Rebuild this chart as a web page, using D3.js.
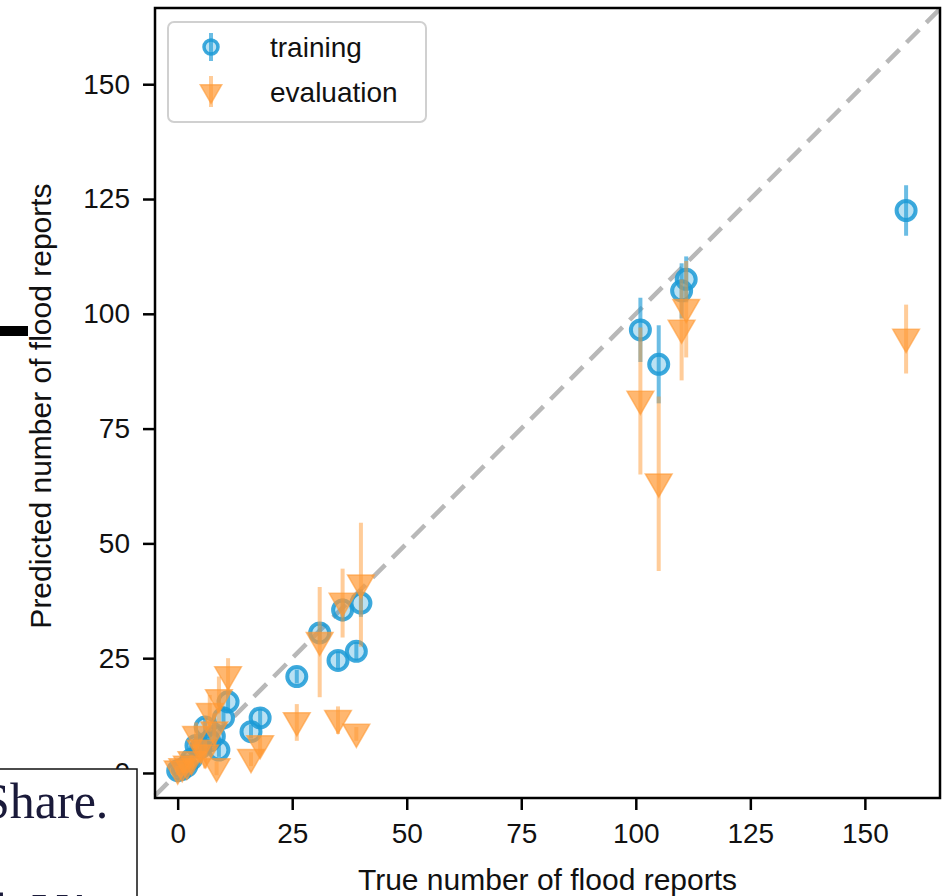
<!DOCTYPE html>
<html>
<head>
<meta charset="utf-8">
<script src="https://cdn.jsdelivr.net/npm/d3@7"></script>
<style>
  body { margin: 0; background: #fff; }
  svg { display: block; }
  text { font-family: "Liberation Sans", Arial, sans-serif; }
  text.serif { font-family: "Liberation Serif", "DejaVu Serif", "Times New Roman", serif; }
</style>
</head>
<body>
<div id="chart"></div>
<script>
const width = 943;
const height = 896;

// training: true count, predicted count, error half-width
const trainTrue = [0, 1, 2, 3, 4, 5, 6, 7, 8, 9, 10, 11, 16, 18, 26, 31, 35, 36, 39, 40, 101, 105, 110, 111, 159];
const trainPred = [0.5, 0.8, 1.5, 3, 6, 5.5, 10, 7, 8, 5, 12, 15.5, 9, 12, 21, 30.5, 24.5, 35.5, 26.5, 37, 96.5, 89, 105, 107.5, 122.5];
const trainErr = [0.8, 1, 1, 1.5, 2, 2, 2, 2, 2, 1.5, 2.5, 2.5, 1.5, 2, 1.5, 2, 2, 2.5, 2, 3, 7, 8.5, 6, 5, 5.5];

// evaluation
const evalTrue = [0, 1, 2, 3, 4, 5, 6, 7, 8, 9, 8.5, 11, 16, 18, 26, 31, 35, 36, 39, 40, 101, 105, 110, 111, 159];
const evalPred = [0.5, 1, 1.5, 2.5, 8, 5, 4, 13, 9, 16, 1, 21, 3, 6, 11, 28.5, 11.5, 37, 8.5, 41, 81, 63, 96.5, 101, 94.5];
const evalErr = [1, 1, 1.5, 1.5, 3, 2.5, 3, 4, 4, 5, 1.5, 4, 1.5, 2, 4, 12, 3, 7.5, 1.5, 13.5, 16, 19, 11, 10.5, 7.5];

const tickValues = [0, 25, 50, 75, 100, 125, 150];
const legendLabels = ["training", "evaluation"];

const blue = "#1b9ad6";
const orange = "#ff9933";

const plot = { left: 155, right: 940, top: 8, bottom: 798 };

const x = d3.scaleLinear().domain([-4.95, 166.4]).range([plot.left, plot.right]);
const y = d3.scaleLinear().domain([-5.45, 166.6]).range([plot.bottom, plot.top]);

const svg = d3.select("#chart").append("svg")
    .attr("width", width)
    .attr("height", height);

// identity line
svg.append("line")
    .attr("x1", x(-4.95)).attr("y1", y(-4.95))
    .attr("x2", x(166.4)).attr("y2", y(166.4))
    .attr("stroke", "#b8b8b8")
    .attr("stroke-width", 4.5)
    .attr("stroke-dasharray", "18,10");

const train = trainTrue.map((d, i) => ({ x: d, y: trainPred[i], e: trainErr[i] }));
const evals = evalTrue.map((d, i) => ({ x: d, y: evalPred[i], e: evalErr[i] }));

const tri = d3.symbol().type(d3.symbolTriangle).size(310);

function drawTrain(g, data) {
    g.selectAll("line.err").data(data).enter().append("line")
        .attr("class", "err")
        .attr("x1", (d) => x(d.x)).attr("x2", (d) => x(d.x))
        .attr("y1", (d) => y(d.y - d.e)).attr("y2", (d) => y(d.y + d.e))
        .attr("stroke", blue).attr("stroke-opacity", 0.65).attr("stroke-width", 4);
    g.selectAll("circle").data(data).enter().append("circle")
        .attr("cx", (d) => x(d.x)).attr("cy", (d) => y(d.y))
        .attr("r", 9.5)
        .attr("fill", blue).attr("fill-opacity", 0.3)
        .attr("stroke", blue).attr("stroke-opacity", 0.85).attr("stroke-width", 4);
}

function drawEval(g, data) {
    g.selectAll("line.err").data(data).enter().append("line")
        .attr("class", "err")
        .attr("x1", (d) => x(d.x)).attr("x2", (d) => x(d.x))
        .attr("y1", (d) => y(d.y - d.e)).attr("y2", (d) => y(d.y + d.e))
        .attr("stroke", orange).attr("stroke-opacity", 0.5).attr("stroke-width", 4);
    g.selectAll("path").data(data).enter().append("path")
        .attr("d", tri)
        .attr("transform", (d) => `translate(${x(d.x)},${y(d.y) - 2}) rotate(180)`)
        .attr("fill", orange).attr("fill-opacity", 0.7)
        .attr("stroke", orange).attr("stroke-opacity", 0.6).attr("stroke-width", 1.5);
}

drawTrain(svg.append("g"), train);
drawEval(svg.append("g"), evals);

// axes
const xAxis = svg.append("g")
    .attr("transform", `translate(0,${plot.bottom})`)
    .call(d3.axisBottom(x).tickValues(tickValues).tickSize(12).tickPadding(13).tickSizeOuter(0));
const yAxis = svg.append("g")
    .attr("transform", `translate(${plot.left},0)`)
    .call(d3.axisLeft(y).tickValues(tickValues).tickSize(12).tickPadding(13).tickSizeOuter(0));
[xAxis, yAxis].forEach((a) => {
    a.select(".domain").remove();
    a.selectAll(".tick line").attr("stroke", "#000").attr("stroke-width", 2.5);
    a.selectAll(".tick text").attr("font-size", 28).attr("fill", "#111")
        .attr("font-family", null);
});

// frame
svg.append("rect")
    .attr("x", plot.left).attr("y", plot.top)
    .attr("width", plot.right - plot.left).attr("height", plot.bottom - plot.top)
    .attr("fill", "none").attr("stroke", "#000").attr("stroke-width", 2.5);

// axis titles
svg.append("text")
    .attr("x", (plot.left + plot.right) / 2).attr("y", 890)
    .attr("text-anchor", "middle").attr("font-size", 30).attr("fill", "#111")
    .text("True number of flood reports");
svg.append("text")
    .attr("transform", "translate(51,406) rotate(-90)")
    .attr("text-anchor", "middle").attr("font-size", 30).attr("fill", "#111")
    .text("Predicted number of flood reports");

// legend
const legend = svg.append("g");
legend.append("rect")
    .attr("x", 168).attr("y", 22).attr("width", 258).attr("height", 100).attr("rx", 6)
    .attr("fill", "#fff").attr("fill-opacity", 0.85)
    .attr("stroke", "#d0d0d0").attr("stroke-width", 2);
legend.append("line")
    .attr("x1", 211).attr("x2", 211).attr("y1", 33).attr("y2", 61)
    .attr("stroke", blue).attr("stroke-opacity", 0.65).attr("stroke-width", 4);
legend.append("circle")
    .attr("cx", 211).attr("cy", 47).attr("r", 7)
    .attr("fill", blue).attr("fill-opacity", 0.3)
    .attr("stroke", blue).attr("stroke-opacity", 0.85).attr("stroke-width", 3.5);
legend.append("line")
    .attr("x1", 211).attr("x2", 211).attr("y1", 76).attr("y2", 107)
    .attr("stroke", orange).attr("stroke-opacity", 0.5).attr("stroke-width", 4);
legend.append("path")
    .attr("d", d3.symbol().type(d3.symbolTriangle).size(200))
    .attr("transform", "translate(211,91) rotate(180)")
    .attr("fill", orange).attr("fill-opacity", 0.7)
    .attr("stroke", orange).attr("stroke-opacity", 0.6).attr("stroke-width", 1.5);
legend.selectAll("text.lab").data(legendLabels).enter().append("text")
    .attr("class", "lab")
    .attr("x", 270).attr("y", (d, i) => 57 + i * 45)
    .attr("font-size", 28).attr("fill", "#111")
    .text((d) => d);

// overlapping bits of the screenshot
svg.append("rect")
    .attr("x", 0).attr("y", 326).attr("width", 28).attr("height", 10).attr("fill", "#000");
const box = svg.append("g");
box.append("rect")
    .attr("x", -2).attr("y", 769).attr("width", 139).attr("height", 140)
    .attr("fill", "#fff").attr("stroke", "#111").attr("stroke-width", 1.5);
box.append("text")
    .attr("class", "serif")
    .attr("x", -18).attr("y", 818)
    .attr("font-size", 50).attr("fill", "#1a1a3a")
    .text("Share.");
box.append("text")
    .attr("class", "serif")
    .attr("x", -6).attr("y", 928)
    .attr("font-size", 50).attr("fill", "#1a1a3a")
    .text("l.  VA.");
</script>
</body>
</html>
